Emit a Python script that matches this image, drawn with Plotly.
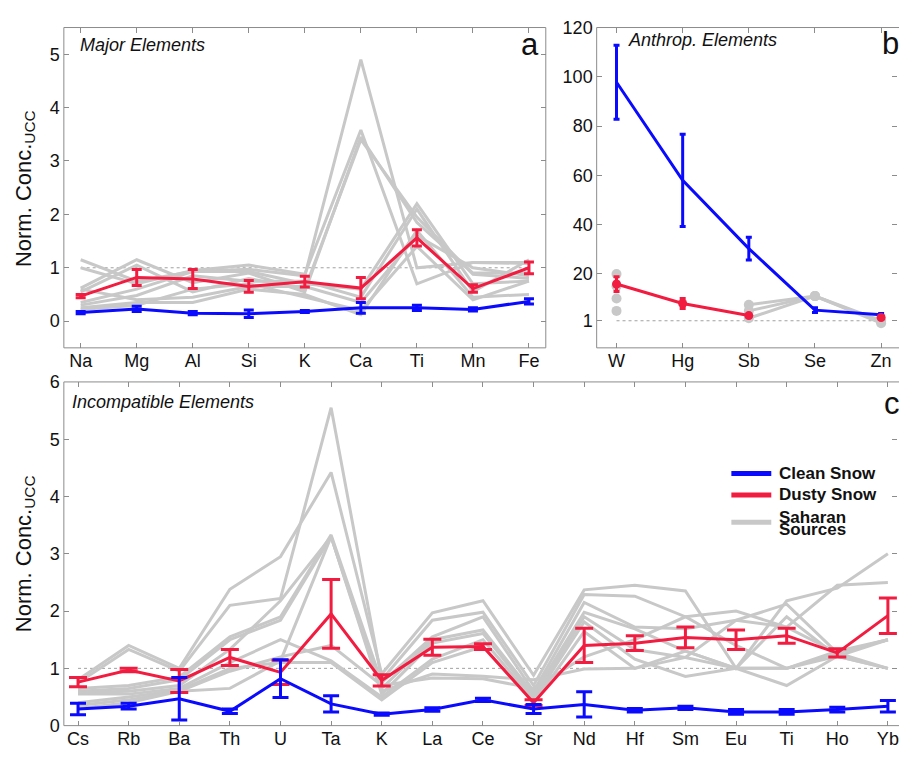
import plotly.graph_objects as go

nan = None

# ---------------- Panel a: Major elements ----------------
major_el = ["Na", "Mg", "Al", "Si", "K", "Ca", "Ti", "Mn", "Fe"]
major_clean = [0.16, 0.23, 0.15, 0.14, 0.18, 0.25, 0.25, 0.22, 0.37]
major_clean_err = [0.02, 0.05, 0.03, 0.07, 0.02, 0.10, 0.05, 0.03, 0.05]
major_dusty = [0.47, 0.82, 0.79, 0.65, 0.74, 0.62, 1.56, 0.61, 1.00]
major_dusty_err = [0.03, 0.15, 0.18, 0.11, 0.10, 0.20, 0.15, 0.07, 0.11]
major_sahara = [
    [1.15, 0.75, 0.93, 0.97, 0.85, 4.90, 1.00, 1.10, 1.10],
    [1.00, 0.70, 0.95, 1.05, 0.88, 3.58, 0.70, 1.10, 1.08],
    [0.62, 1.15, 0.72, 0.90, 0.55, 3.45, 1.85, 0.90, 0.90],
    [0.55, 1.05, 0.55, 0.80, 0.60, 3.40, 1.95, 0.88, 0.80],
    [0.35, 0.60, 0.93, 0.93, 0.70, 0.60, 2.20, 0.70, 0.75],
    [0.30, 0.48, 0.85, 0.75, 0.75, 0.45, 2.10, 0.55, 1.15],
    [0.25, 0.35, 0.35, 0.60, 0.50, 0.12, 1.70, 0.45, 0.50],
    [0.22, 0.30, 0.60, 0.70, 0.45, 0.20, 1.40, 0.40, 0.75],
    [0.60, 0.40, 0.45, 0.65, 0.65, 0.35, 1.60, 1.00, 0.85],
]

# ---------------- Panel b: Anthropogenic elements ----------------
anth_el = ["W", "Hg", "Sb", "Se", "Zn"]
anth_clean = [97.8, 58.0, 30.3, 5.3, 3.4]
anth_clean_err = [15.0, 18.7, 4.6, 1.0, 0.5]
anth_dusty = [15.9, 8.0, 3.1, nan, 2.3]
anth_dusty_err = [3.0, 2.0, 0.6, nan, 0.4]
anth_sahara = [
    [20.0, nan, 7.5, 11.0, 1.0],
    [15.0, nan, 5.0, 11.0, 0.5],
    [10.0, nan, 2.0, 11.0, 0.0],
    [5.0, nan, nan, nan, nan],
]

# ---------------- Panel c: Incompatible elements ----------------
inc_el = ["Cs", "Rb", "Ba", "Th", "U", "Ta", "K", "La", "Ce", "Sr",
          "Nd", "Hf", "Sm", "Eu", "Ti", "Ho", "Yb"]
inc_clean = [0.29, 0.34, 0.47, 0.25, 0.82, 0.38, 0.20, 0.28, 0.45, 0.29,
             0.37, 0.27, 0.31, 0.24, 0.24, 0.28, 0.34]
inc_clean_err = [0.10, 0.05, 0.37, 0.04, 0.33, 0.14, 0.02, 0.03, 0.03, 0.08,
                 0.22, 0.03, 0.03, 0.04, 0.04, 0.04, 0.10]
inc_dusty = [0.76, 0.97, 0.78, 1.19, 0.93, 1.95, 0.79, 1.37, 1.38, 0.40,
             1.40, 1.44, 1.54, 1.50, 1.57, 1.27, 1.92]
inc_dusty_err = [0.08, 0.03, 0.20, 0.14, 0.21, 0.60, 0.10, 0.14, 0.05, 0.05,
                 0.30, 0.13, 0.18, 0.17, 0.13, 0.07, 0.31]
inc_sahara = [
    [0.80, 1.40, 1.00, 2.38, 2.95, 4.42, 0.90, 1.97, 2.18, 0.88, 2.37, 2.45, 2.35, 1.00, 2.18, 2.40, 3.00],
    [0.75, 1.33, 0.95, 2.10, 2.22, 5.55, 0.80, 1.84, 1.98, 0.70, 2.29, 2.26, 1.90, 2.00, 1.72, 2.45, 2.50],
    [0.65, 0.70, 0.85, 1.55, 1.90, 3.33, 0.75, 1.55, 1.90, 0.60, 2.15, 1.72, 1.69, 1.84, 2.12, 1.27, 1.50],
    [0.60, 0.65, 0.80, 1.50, 1.84, 3.30, 0.65, 1.50, 1.67, 0.55, 1.98, 1.69, 1.30, 1.00, 1.90, 1.21, 1.00],
    [0.58, 0.60, 0.70, 1.33, 2.18, 3.30, 0.55, 1.44, 1.61, 0.50, 1.90, 1.33, 1.19, 1.00, 1.00, 1.27, 1.50],
    [0.55, 0.55, 0.65, 1.10, 1.50, 1.13, 0.50, 1.16, 1.50, 0.45, 1.81, 1.16, 0.86, 1.00, 0.70, 1.21, 1.00],
    [0.40, 0.50, 0.62, 1.00, 1.10, 1.10, 0.45, 1.10, 1.38, 0.40, 1.64, 1.00, 1.30, 1.00, 1.00, 1.21, 1.50],
    [0.35, 0.45, 0.60, 0.65, 1.13, 3.30, 0.60, 0.90, 0.86, 0.80, 0.99, 1.00, 1.19, 1.84, 1.72, 1.27, 1.00],
    [0.30, 0.40, 0.60, 0.95, 1.20, 1.40, 0.70, 0.83, 0.82, 0.65, 1.20, 1.50, 1.90, 1.40, 1.00, 1.30, 1.50],
]

a_yticks = [0, 1, 2, 3, 4, 5]
b_yticks = [1, 20, 40, 60, 80, 100, 120]
c_yticks = [0, 1, 2, 3, 4, 5, 6]

# ---------------- style ----------------
W, H = 899, 759
BLUE = "#0A0AFF"
RED = "#F21C40"
GREY = "#C8C8C8"
FRAME = "#8C8C8C"
FONT = "Liberation Sans, Arial, sans-serif"


def px(x):
    return x / W


def py(y):
    return 1 - y / H


fig = go.Figure()


def add_panel(xa, ya, cats, sahara, dusty, dusty_err, clean, clean_err,
              cap_d, cap_c, panel_b=False):
    # reference dotted line at 1
    fig.add_trace(go.Scatter(x=cats, y=[1] * len(cats), mode="lines",
                             line=dict(color="#A0A0A0", width=1, dash="dot"),
                             xaxis=xa, yaxis=ya, showlegend=False, hoverinfo="skip"))
    for s in sahara:
        fig.add_trace(go.Scatter(x=cats, y=s,
                                 mode="lines+markers" if panel_b else "lines",
                                 line=dict(color=GREY, width=3),
                                 marker=dict(color=GREY, size=10),
                                 connectgaps=False,
                                 xaxis=xa, yaxis=ya, showlegend=False))
    order = ["clean", "dusty"] if panel_b else ["dusty", "clean"]
    for o in order:
        if o == "dusty":
            fig.add_trace(go.Scatter(
                x=cats, y=dusty, mode="lines+markers" if panel_b else "lines",
                line=dict(color=RED, width=3),
                marker=dict(color=RED, size=9),
                connectgaps=False,
                error_y=dict(type="data", array=dusty_err, color=RED,
                             thickness=3, width=cap_d),
                xaxis=xa, yaxis=ya, showlegend=False))
        else:
            fig.add_trace(go.Scatter(
                x=cats, y=clean, mode="lines",
                line=dict(color=BLUE, width=3),
                error_y=dict(type="data", array=clean_err, color=BLUE,
                             thickness=3, width=cap_c),
                xaxis=xa, yaxis=ya, showlegend=False))


add_panel("x", "y", major_el, major_sahara, major_dusty, major_dusty_err,
          major_clean, major_clean_err, 5, 5)
add_panel("x2", "y2", anth_el, anth_sahara, anth_dusty, anth_dusty_err,
          anth_clean, anth_clean_err, 3, 3, panel_b=True)
add_panel("x3", "y3", inc_el, inc_sahara, inc_dusty, inc_dusty_err,
          inc_clean, inc_clean_err, 9, 8)

tickfont = dict(family=FONT, size=18, color="#111111")
xcommon = dict(type="category", showgrid=False, zeroline=False, showline=False,
               ticks="inside", ticklen=5, tickwidth=1, tickcolor=FRAME,
               mirror="ticks", tickfont=tickfont, fixedrange=True)
ycommon = dict(showgrid=False, zeroline=False, showline=False,
               ticks="inside", ticklen=5, tickwidth=1, tickcolor=FRAME,
               mirror="ticks", tickfont=tickfont, ticklabelstandoff=3,
               fixedrange=True)

a_dom_x = [px(64), px(547)]
b_dom_x = [px(598), 1.0]
c_dom_x = [px(64), 1.0]
ab_dom_y = [py(347), py(18)]
c_dom_y = [py(735), py(382)]

fig.update_layout(
    width=W, height=H,
    margin=dict(l=0, r=0, t=0, b=0),
    paper_bgcolor="white", plot_bgcolor="white",
    font=dict(family=FONT, color="#111111"),
    xaxis=dict(xcommon, domain=a_dom_x, anchor="y", range=[-0.3, 8.3]),
    yaxis=dict(ycommon, domain=ab_dom_y, anchor="x", range=[-0.5, 5.5],
               tickvals=a_yticks),
    xaxis2=dict(xcommon, domain=b_dom_x, anchor="y2", range=[-0.3, 4.24]),
    yaxis2=dict(ycommon, domain=ab_dom_y, anchor="x2", range=[-10, 120],
                tickvals=b_yticks),
    xaxis3=dict(xcommon, domain=c_dom_x, anchor="y3", range=[-0.28, 16.18]),
    yaxis3=dict(ycommon, domain=c_dom_y, anchor="x3", range=[0, 6],
                tickvals=c_yticks),
)

# frames (drawn as paper shapes; right edges of b and c run past the page)
shapes = []
for (x0, x1), (y0, y1) in [((64, 547), (18, 347)), ((598, 904), (18, 347)),
                           ((64, 906), (382, 735))]:
    shapes.append(dict(type="rect", xref="paper", yref="paper",
                       x0=px(x0), x1=px(x1), y0=py(y1), y1=py(y0),
                       line=dict(color=FRAME, width=1), layer="above"))

# legend lines
for color, yy in [(BLUE, 476), (RED, 498), (GREY, 526)]:
    shapes.append(dict(type="line", xref="paper", yref="paper",
                       x0=px(733), x1=px(773), y0=py(yy), y1=py(yy),
                       line=dict(color=color, width=5)))
fig.update_layout(shapes=shapes)

ann = []


def text(x, y, s, size, xanchor="left", **kw):
    ann.append(dict(x=px(x), y=py(y), xref="paper", yref="paper", text=s,
                    showarrow=False, xanchor=xanchor, yanchor="middle",
                    font=dict(family=FONT, size=size, color="#111111"), **kw))


text(78, 36, "<i>Major Elements</i>", 18)
text(627, 31, "<i>Anthrop. Elements</i>", 18)
text(70, 403, "<i>Incompatible Elements</i>", 18)
text(520, 35, "a", 31)
text(882, 34, "b", 31)
text(884, 404, "c", 31)
text(25, 183, "Norm. Conc.<sub>UCC</sub>", 22, xanchor="center", textangle=-90)
text(25, 558, "Norm. Conc.<sub>UCC</sub>", 22, xanchor="center", textangle=-90)
text(779, 476, "<b>Clean Snow</b>", 17)
text(779, 498, "<b>Dusty Snow</b>", 17)
text(779, 521, "<b>Saharan</b>", 17, height=13)
text(779, 534, "<b>Sources</b>", 17, height=13)
fig.update_layout(annotations=ann)

fig.write_html(
    "out.html",
    config={"displayModeBar": False},
    post_script="document.body.style.margin='0';document.body.style.overflow='hidden';",
)
